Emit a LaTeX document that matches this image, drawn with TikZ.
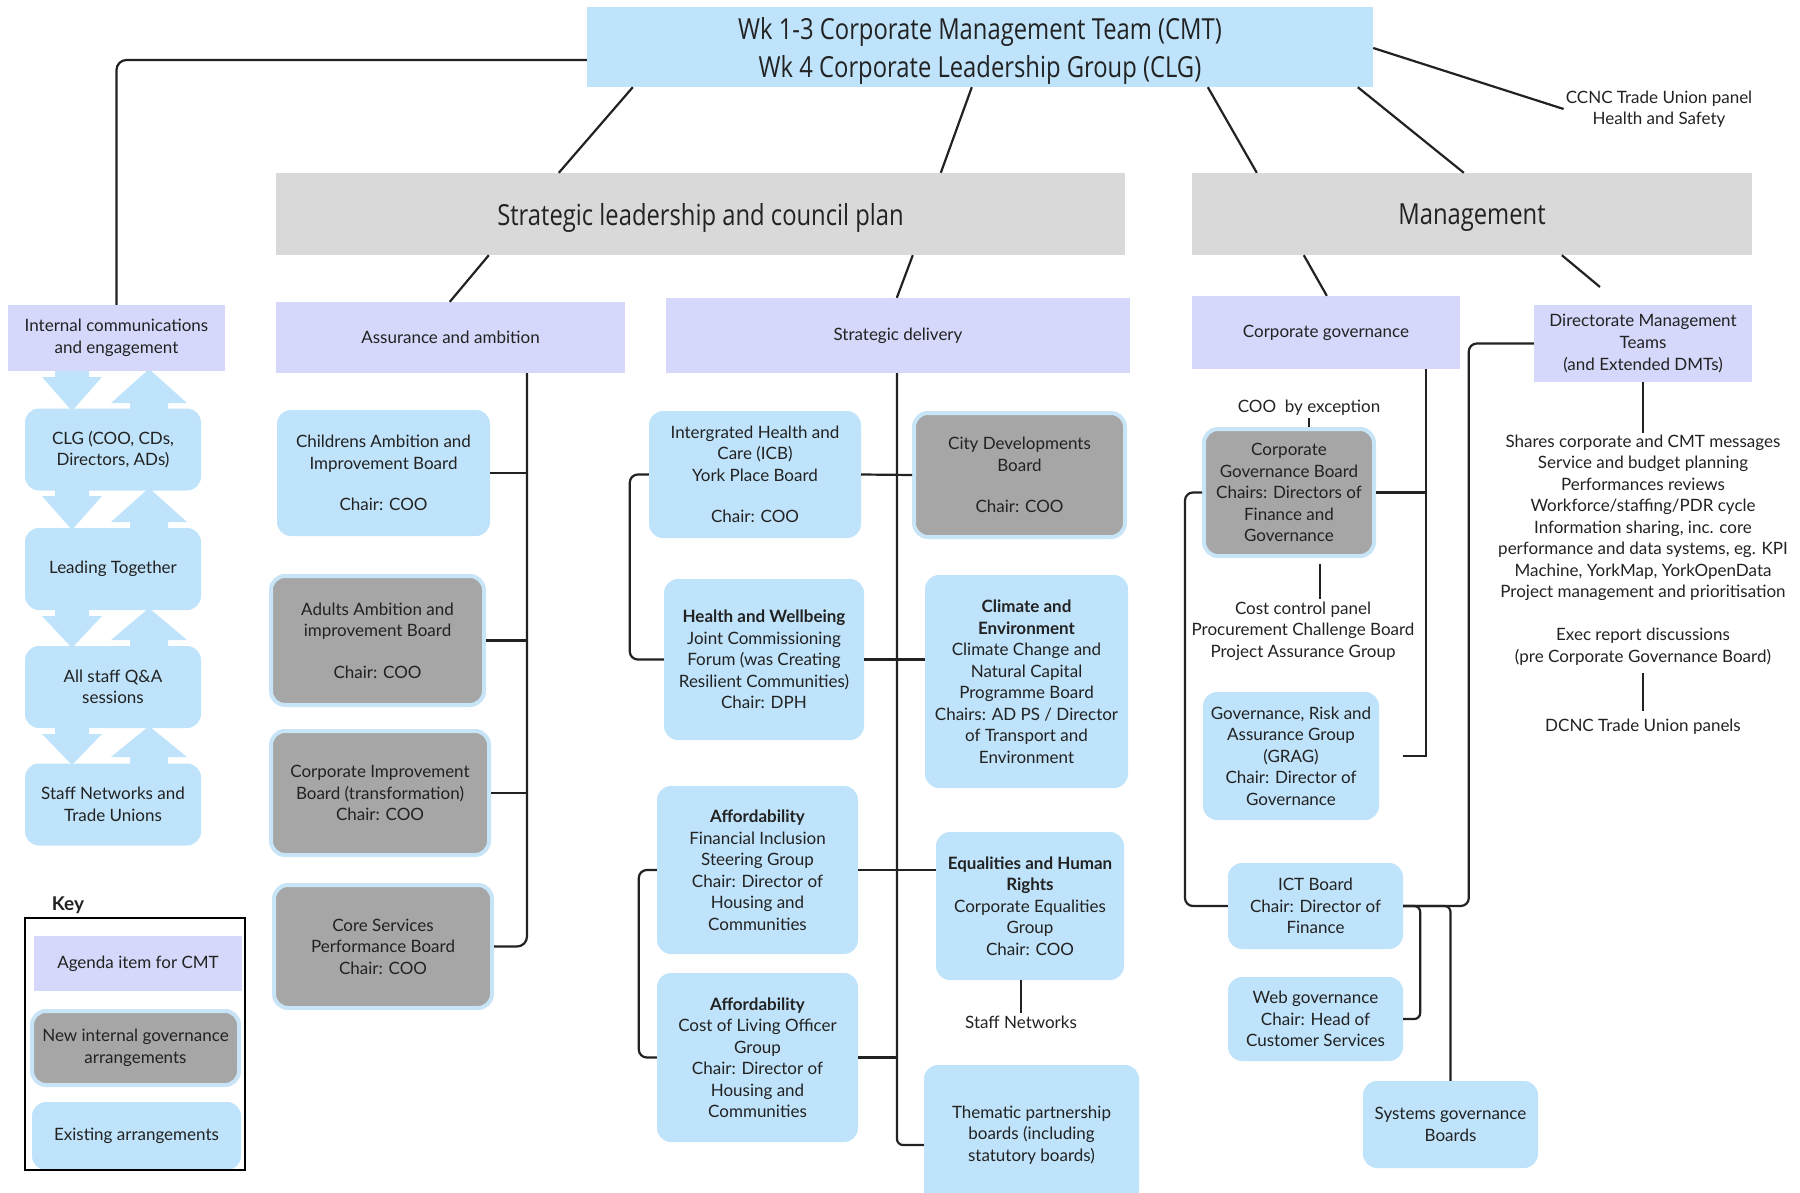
\documentclass[tikz,border=0pt]{standalone}
\usepackage{fontspec}
\setmainfont{Lato}
\newfontfamily\condfont[FakeStretch=0.82]{Open Sans}
\definecolor{lblue}{HTML}{BFE3FA}
\definecolor{lav}{HTML}{D5D8FA}
\definecolor{hgray}{HTML}{D9D9D9}
\definecolor{dgray}{HTML}{A6A6A6}
\definecolor{ring}{HTML}{C8E4F7}
\definecolor{ink}{HTML}{222222}

\begin{document}
\begin{tikzpicture}[x=1pt, y=-1pt,
  every node/.style={text=ink},
  bluebox/.style={rounded corners=14pt, fill=lblue, align=center, inner sep=3pt, font=\fontsize{17}{21.5}\selectfont},
  graybox/.style={bluebox, fill=dgray, draw=ring, line width=4pt},
  agendabox/.style={fill=lav, align=center, inner sep=3pt, font=\fontsize{17}{22}\selectfont},
  headbox/.style={fill=hgray, text depth=0pt, font=\condfont\fontsize{29}{34}\selectfont},
  note/.style={align=center, inner sep=2pt, font=\fontsize{17}{21.5}\selectfont},
  link/.style={draw=ink, line width=2.2pt}]
\useasboundingbox (0,0) rectangle (1800,1193);

% Two-way arrows between the communication steps
\foreach \t/\b in {371/409, 490/528, 610/646, 728/763} {
  \fill[lblue] (55,\t-2) -- (89,\t-2) -- (89,\t+6) -- (102,\t+6) -- (72,\b+2) -- (42,\t+6) -- (55,\t+6) -- cycle;
  \fill[lblue] (130,\b+2) -- (168,\b+2) -- (168,\b-6) -- (187,\b-6) -- (149,\t-2) -- (111,\b-6) -- (130,\b-6) -- cycle;
}

% Top level
\node[fill=lblue, minimum width=786pt, minimum height=80pt, align=center, text depth=0pt, font=\condfont\fontsize{29}{38}\selectfont] (cmt) at (980,47) {Wk 1-3 Corporate Management Team (CMT)\\Wk 4 Corporate Leadership Group (CLG)};
\node[headbox, minimum width=849pt, minimum height=82pt] (slc) at (700.5,214) {Strategic leadership and council plan};
\node[headbox, minimum width=560pt, minimum height=82pt] (mgmt) at (1472,214) {Management};
\node[note] (ccnc) at (1659,109) {CCNC Trade Union panel\\Health and Safety};

% Agenda items
\node[agendabox, minimum width=217pt, minimum height=66pt] (icomm) at (116.5,338) {Internal communications\\and engagement};
\node[agendabox, minimum width=349pt, minimum height=71pt] (assur) at (450.5,337.5) {Assurance and ambition};
\node[agendabox, minimum width=464pt, minimum height=75pt] (sdel) at (898,335.5) {Strategic delivery};
\node[agendabox, minimum width=268pt, minimum height=73pt] (cgov) at (1326,332.5) {Corporate governance};
\node[agendabox, minimum width=218pt, minimum height=77pt] (dmt) at (1643,343.5) {Directorate Management\\Teams\\(and Extended DMTs)};

% Internal communications
\foreach \n/\y/\txt in {clg/449.5/{CLG (COO, CDs,\\Directors, ADs)}, lead/569/{Leading Together}, qa/687/{All staff Q\&A\\sessions}, snet/804.5/{Staff Networks and\\Trade Unions}}
  \node[bluebox, minimum width=176pt, minimum height=82pt] (\n) at (113,\y) {\txt};

% Assurance and ambition
\node[bluebox, minimum width=213pt, minimum height=126pt] (child) at (383.5,473) {Childrens Ambition and\\Improvement Board\\[20pt]Chair: COO};
\node[graybox, minimum width=213pt, minimum height=129pt] (adult) at (377.5,640.5) {Adults Ambition and\\improvement Board\\[20pt]Chair: COO};
\node[graybox, minimum width=218pt, minimum height=124pt] (cimp) at (380,793) {Corporate Improvement\\Board (transformation)\\Chair: COO};
\node[graybox, minimum width=218pt, minimum height=123pt] (core) at (383,946.5) {Core Services\\Performance Board\\Chair: COO};

% Strategic delivery
\node[bluebox, minimum width=212pt, minimum height=127pt] (icb) at (755,474.5) {Intergrated Health and\\Care (ICB)\\York Place Board\\[20pt]Chair: COO};
\node[graybox, minimum width=211pt, minimum height=124pt] (city) at (1019.5,475) {City Developments\\Board\\[20pt]Chair: COO};
\node[bluebox, minimum width=200pt, minimum height=161pt] (hw) at (764,659.5) {\textbf{Health and Wellbeing}\\Joint Commissioning\\Forum (was Creating\\Resilient Communities)\\Chair: DPH};
\node[bluebox, minimum width=203pt, minimum height=213pt] (clim) at (1026.5,681.5) {\textbf{Climate and}\\\textbf{Environment}\\Climate Change and\\Natural Capital\\Programme Board\\Chairs: AD PS / Director\\of Transport and\\Environment};
\node[bluebox, minimum width=201pt, minimum height=168pt] (aff1) at (757.5,870) {\textbf{Affordability}\\Financial Inclusion\\Steering Group\\Chair: Director of\\Housing and\\Communities};
\node[bluebox, minimum width=188pt, minimum height=148pt] (eq) at (1030,906) {\textbf{Equalities and Human}\\\textbf{Rights}\\Corporate Equalities\\Group\\Chair: COO};
\node[bluebox, minimum width=201pt, minimum height=169pt] (aff2) at (757.5,1057.5) {\textbf{Affordability}\\Cost of Living Officer\\Group\\Chair: Director of\\Housing and\\Communities};
\node[note] (staffnw) at (1021,1022) {Staff Networks};
\node[bluebox, minimum width=215pt, minimum height=140pt] (them) at (1031.5,1135) {Thematic partnership\\boards (including\\statutory boards)};

% Corporate governance
\node[note] (coo) at (1309,408) {COO~~by exception};
\node[graybox, minimum width=170pt, minimum height=127pt] (cgb) at (1289,492.5) {Corporate\\Governance Board\\Chairs: Directors of\\Finance and\\Governance};
\node[note] (cost) at (1303,631) {Cost control panel\\Procurement Challenge Board\\Project Assurance Group};
\node[bluebox, minimum width=176pt, minimum height=128pt] (grag) at (1291,756) {Governance, Risk and\\Assurance Group\\(GRAG)\\Chair: Director of\\Governance};
\node[bluebox, minimum width=175pt, minimum height=86pt] (ict) at (1315.5,906) {ICT Board\\Chair: Director of\\Finance};
\node[bluebox, minimum width=175pt, minimum height=84pt] (web) at (1315.5,1019) {Web governance\\Chair: Head of\\Customer Services};
\node[bluebox, minimum width=175pt, minimum height=87pt] (sysg) at (1450.5,1124.5) {Systems governance\\Boards};

% Directorate management teams
\node[note] (dmtlist) at (1643,518) {Shares corporate and CMT messages\\Service and budget planning\\Performances reviews\\Workforce/staffing/PDR cycle\\Information sharing, inc. core\\performance and data systems, eg. KPI\\Machine, YorkMap, YorkOpenData\\Project management and prioritisation};
\node[note] (exec) at (1643,646.5) {Exec report discussions\\(pre Corporate Governance Board)};
\node[note] (dcnc) at (1643,727) {DCNC Trade Union panels};

% Key
\node[font=\bfseries\fontsize{19}{22}\selectfont] (keytitle) at (68,905) {Key};
\node[agendabox, minimum width=208pt, minimum height=55pt] (kagenda) at (138,963.5) {Agenda item for CMT};
\node[graybox, minimum width=207pt, minimum height=74pt] (knew) at (135.5,1048) {New internal governance\\arrangements};
\node[bluebox, minimum width=209pt, minimum height=68pt] (kexist) at (136.5,1136) {Existing arrangements};
\node[draw=black, line width=2.6pt, minimum width=220pt, minimum height=252pt] (keybox) at (135,1044) {};

% Links from the top
\draw[link, rounded corners=10pt] ([yshift=-13pt]cmt.west) -| (icomm.north);
\draw[link] ([xshift=46pt]cmt.south west) -- ([xshift=283pt]slc.north west);
\draw[link] ([xshift=385pt]cmt.south west) -- ([xshift=665pt]slc.north west);
\draw[link] ([xshift=621pt]cmt.south west) -- ([xshift=65pt]mgmt.north west);
\draw[link] ([xshift=771pt]cmt.south west) -- ([xshift=272pt]mgmt.north west);
\draw[link] ([yshift=-1pt]cmt.east) -- (ccnc.west);
\draw[link] ([xshift=213pt]slc.south west) -- ([xshift=174pt]assur.north west);
\draw[link] ([xshift=637pt]slc.south west) -- ([xshift=231pt]sdel.north west);
\draw[link] ([xshift=112pt]mgmt.south west) -- ([xshift=135pt]cgov.north west);
\coordinate (dmtgap) at (1600,287);
\draw[link] ([xshift=370pt]mgmt.south west) -- (dmtgap);

% Assurance bus
\coordinate (abus) at (527,0);
\draw[link, rounded corners=10pt] (assur.south -| abus) |- (core.east);
\foreach \n in {child, adult, cimp}
  \draw[link] (\n.east) -- (\n.east -| abus);

% Strategic delivery bus
\coordinate (sbus) at (897,0);
\draw[link, rounded corners=6pt] (sdel.south -| sbus) |- ([yshift=-10pt]them.west);
\draw[link] (icb.east) -- (city.west);
\draw[link] (hw.east) -- (clim.west |- hw.east);
\draw[link] (aff1.east) -- (eq.west |- aff1.east);
\draw[link] (aff2.east) -- (aff2.east -| sbus);
\draw[link, rounded corners=8pt] (icb.west) -- ++(-19,0) |- (hw.west);
\draw[link, rounded corners=8pt] (aff1.west) -- ++(-18,0) |- (aff2.west);
\draw[link] (staffnw.north |- eq.south) -- (staffnw.north);

% Corporate governance bus
\coordinate (gbus) at (1426,0);
\draw[link] (cgov.south -| gbus) |- ([xshift=24pt]grag.east);
\draw[link] (cgb.east) -- (cgb.east -| gbus);
\draw[link] (coo.south) -- (coo.south |- cgb.north);
\draw[link] ([xshift=31pt,yshift=-6pt]cgb.south) -- ([xshift=17pt]cost.north);
\draw[link, rounded corners=8pt] (cgb.west) -- ++(-17,0) |- (ict.west);
\draw[link, rounded corners=8pt] (dmt.west) -- ++(-65,0) |- (ict.east);
\draw[link, rounded corners=6pt] (ict.east) -- ++(17,0) |- (web.east);
\draw[link, rounded corners=6pt] (ict.east) -| (sysg.north);

% DMT notes
\draw[link] (dmt.south) -- (dmtlist.north);
\draw[link] ([yshift=-6pt]exec.south) -- ([yshift=6pt]dcnc.north);
\end{tikzpicture}
\end{document}
